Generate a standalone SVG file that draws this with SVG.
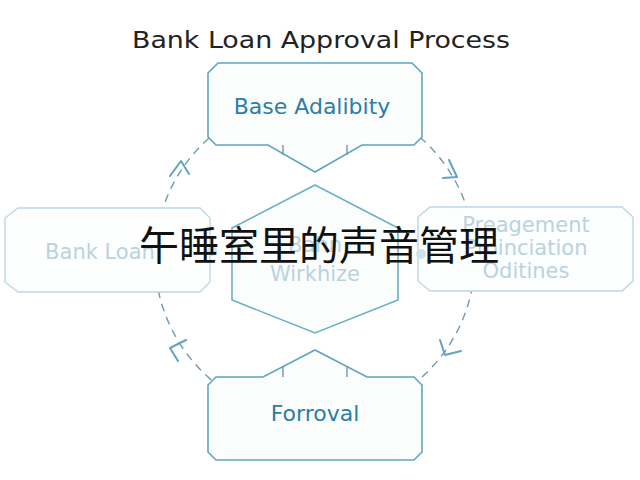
<svg xmlns="http://www.w3.org/2000/svg" width="640" height="480" viewBox="0 0 640 480">
<style>
.box{fill:#fbfdfc;stroke:#5fa5bf;stroke-width:1.6}
.lbox{fill:#fdfefe;stroke:#bcd8e2;stroke-width:1.4}
.t{font-family:"DejaVu Sans","Liberation Sans",sans-serif;text-anchor:middle}
.dark{fill:#2a7ea8;font-size:22px}
.light{fill:#b9d3de;font-size:21px}
.con{fill:none;stroke:#6e9aae;stroke-width:1.4}
.arr{fill:none;stroke:#5fa5bf;stroke-width:2;stroke-linecap:round;stroke-linejoin:round}
</style>
<rect width="640" height="480" fill="#ffffff"/>
<text class="t" x="321" y="48" font-size="23" fill="#222" textLength="378" lengthAdjust="spacingAndGlyphs">Bank Loan Approval Process</text>
<g id="connectors">
<circle class="con" cx="315" cy="258" r="160" stroke-dasharray="8 6"/>
<path class="arr" d="M170 176 L181 161 L189 174 M449 160 L457 177 L443 178 M440 340 L445 355 L461 351 M186 340 L170 348 L178 361"/>
</g>
<g id="center">
<path class="box" style="stroke:#6cb0c8" d="M315 185 L398 228 L398 300 L315 333 L232 300 L232 228 Z"/>
<text class="t light" x="315" y="252" fill="#c7dde6">Bahn</text>
<text class="t light" x="315" y="281" fill="#9cc2d2">Wirkhize</text>
</g>
<g id="top">
<path class="box" d="M218 63 L412 63 L422 73 L422 137 L414 145 L362 145 L315 172 L268 145 L216 145 L208 137 L208 73 Z"/>
<path class="con" stroke="#5fa5bf" d="M283 145 L283 155 M347 145 L347 155"/>
<text class="t dark" x="312" y="114">Base Adalibity</text>
</g>
<g id="bottom">
<path class="box" d="M216 377 L263 377 L315 350 L367 377 L414 377 L422 385 L422 452 L414 460 L216 460 L208 452 L208 385 Z"/>
<path class="con" stroke="#5fa5bf" d="M283 366 L283 377 M347 366 L347 377"/>
<text class="t dark" x="315" y="421">Forroval</text>
</g>
<g id="left">
<path class="lbox" d="M18 208 L200 208 L210 218 L210 282 L200 292 L18 292 L5 282 L5 218 Z"/>
<text class="t light" x="100" y="259">Bank Loan</text>
<circle cx="212" cy="251" r="5" fill="#cfe2ea"/>
</g>
<g id="right">
<path class="lbox" d="M430 207 L622 207 L633 217 L633 281 L622 291 L430 291 L418 281 L418 217 Z"/>
<text class="t light" x="526" y="232">Preagement</text>
<text class="t light" x="526" y="255">Proinciation</text>
<text class="t light" x="526" y="278">Oditines</text>
<circle cx="421" cy="254" r="5" fill="#cfe2ea"/>
</g>
<text x="319" y="260" font-family="'Noto Sans CJK SC',sans-serif" font-size="40" fill="#111" text-anchor="middle">午睡室里的声音管理</text>
</svg>
